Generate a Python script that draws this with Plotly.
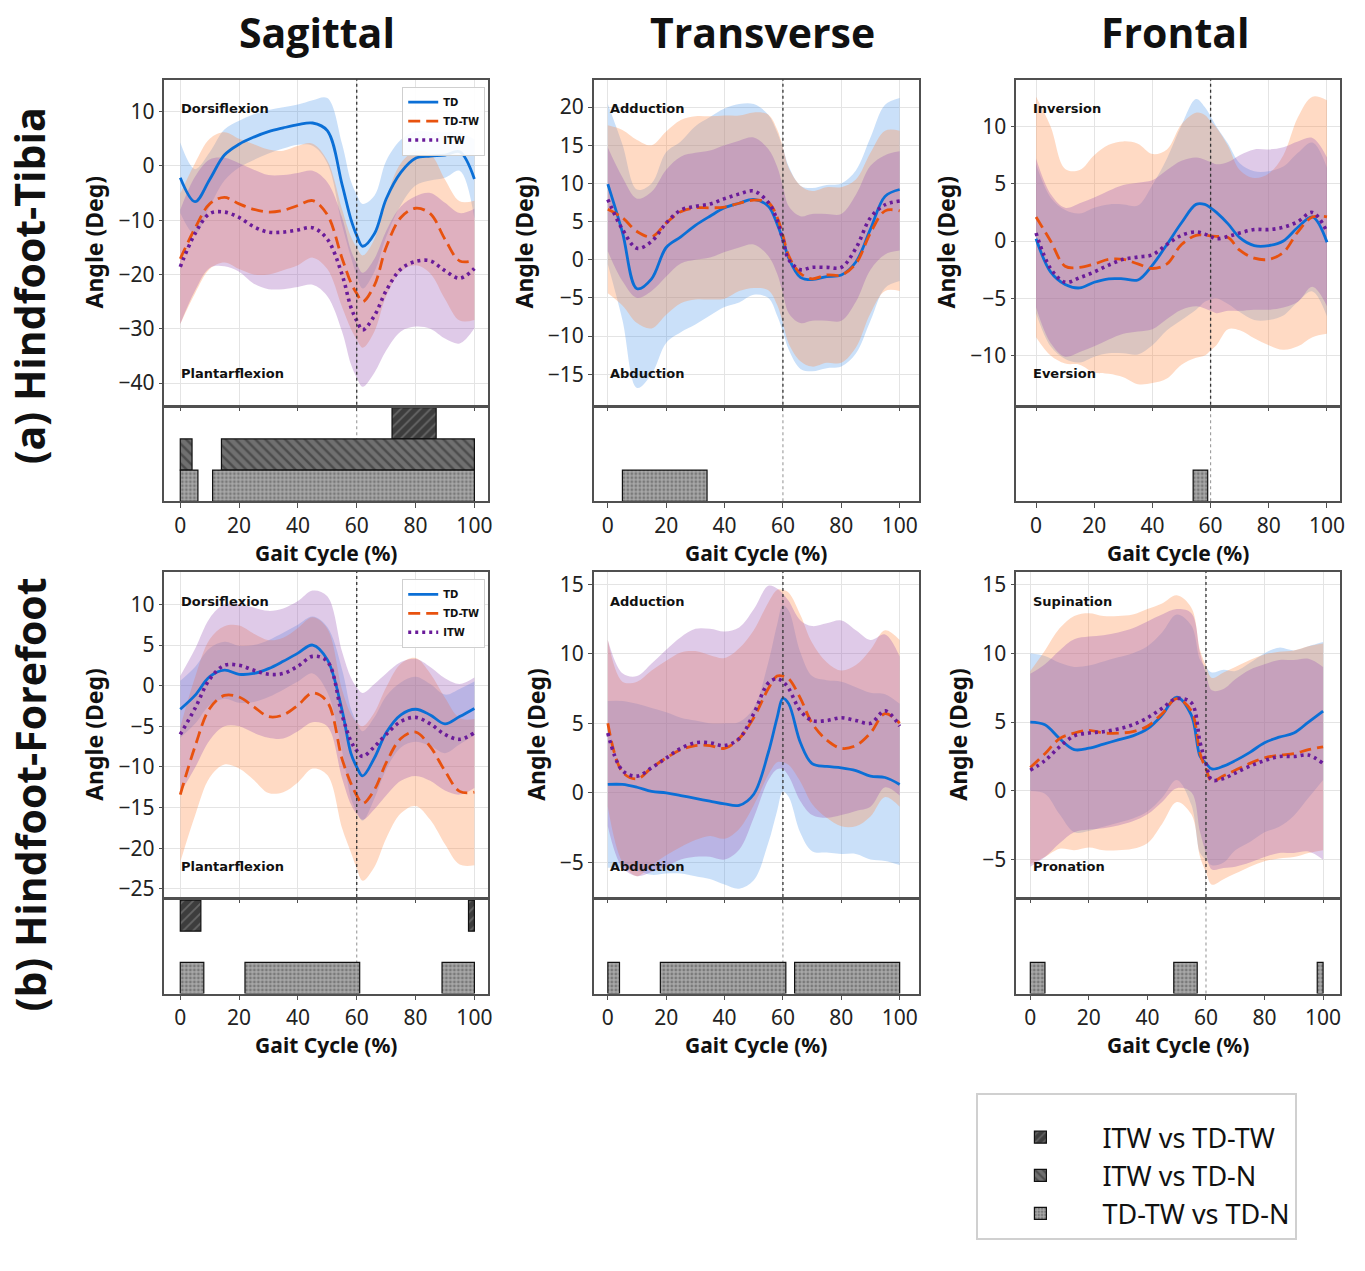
import plotly.graph_objects as go

W, H = 1365, 1271

# ---------------- data ----------------
X = [0, 5, 10, 15, 20, 25, 30, 35, 40, 45, 50, 55, 58, 60, 62, 66, 70, 75, 80, 85, 90, 95, 100]

# Row 1 (Hindfoot-Tibia) - Sagittal
R1C1_TD = [-2.2, -6.6, -2.5, 2.0, 4.0, 5.3, 6.3, 7.0, 7.6, 7.9, 6.5, -3.4, -9.8, -12.8, -14.8, -12.5, -6.1, -1.2, 1.4, 1.8, 2.0, 2.6, -2.4]
R1C1_TD_SD = [6.5, 6, 5, 4.7, 4.3, 4.2, 4, 3.8, 3.7, 4.2, 6, 7.5, 7, 7.5, 7.8, 7, 7, 6, 5, 4.5, 4.2, 3.5, 7.3]
R1C1_TDTW = [-17.1, -11.5, -7.0, -5.8, -7.0, -8.0, -8.5, -8.2, -7.3, -6.4, -9.0, -17.0, -21.5, -23.5, -25.0, -22.0, -15.0, -9.5, -7.8, -8.8, -13.5, -17.5, -17.4]
R1C1_TDTW_SD = [12, 12, 12, 12, 12, 12, 11.5, 11, 11, 10.5, 10, 9, 8.5, 8.5, 8.5, 8.5, 9, 10, 10.5, 11, 11, 11, 11]
R1C1_ITW = [-18.6, -12.5, -8.8, -8.5, -9.5, -11.2, -12.2, -12.2, -11.8, -11.4, -13.5, -20.0, -26.0, -28.5, -30.2, -27.6, -23.0, -19.0, -17.6, -17.5, -19.3, -20.7, -18.9]
R1C1_ITW_SD = [10.5, 10.5, 10, 10, 10, 10.5, 10.5, 10.5, 10.5, 10.5, 10.5, 10.5, 10.5, 10.5, 10.5, 10.5, 11, 11.5, 12, 12.5, 12.5, 12, 11]

# Row 1 - Transverse
R1C2_TD = [9.9, 3.6, -3.8, -2.5, 1.6, 3.0, 4.5, 5.7, 6.8, 7.4, 7.9, 7.0, 4.7, 2.6, 0.2, -2.3, -2.6, -2.2, -2.0, -0.3, 4.0, 8.3, 9.2]
R1C2_TD_SD = [10.5, 11.5, 13, 12.5, 12.5, 12.5, 13, 13, 13, 13, 12.5, 12, 12, 12, 12, 12, 12, 12, 12, 12, 12, 12, 12]
R1C2_TDTW = [6.6, 5.5, 3.7, 3.0, 4.8, 6.3, 6.8, 6.8, 6.9, 7.4, 7.8, 7.5, 5.6, 3.2, 0.5, -1.8, -2.5, -2.0, -2.0, -0.5, 3.5, 6.4, 6.4]
R1C2_TDTW_SD = [11, 11.5, 12, 12, 12, 12, 12, 12, 12, 11.5, 11.5, 11.5, 11.5, 11.5, 11.5, 11.5, 11.5, 11.5, 11.5, 11, 10.5, 10.5, 10.5]
R1C2_ITW = [7.9, 4.0, 1.5, 2.4, 4.8, 6.5, 7.0, 7.3, 8.0, 8.6, 9.0, 7.5, 5.2, 2.6, 0.0, -1.3, -1.0, -1.0, -1.0, 1.5, 5.5, 7.2, 7.7]
R1C2_ITW_SD = [6.8, 6.8, 6.5, 6.5, 7, 7, 7, 7, 7, 7, 7, 7, 7, 7, 7, 7, 7, 7, 7, 7, 6.8, 6.5, 6.5]

# Row 1 - Frontal
R1C3_TD = [0.2, -2.7, -3.8, -4.1, -3.6, -3.3, -3.3, -3.4, -2.1, -0.3, 1.6, 3.2, 3.2, 2.9, 2.5, 1.5, 0.3, -0.4, -0.4, 0.0, 1.2, 2.1, -0.1]
R1C3_TD_SD = [6.5, 6.5, 6.5, 6.5, 6.5, 6.5, 6.5, 6.5, 7, 7.5, 8.5, 9.2, 8.5, 8, 7.5, 7, 6.5, 6.5, 6.5, 6.5, 6.5, 6.5, 6.5]
R1C3_TDTW = [2.1, 0.0, -2.2, -2.3, -2.0, -1.6, -1.6, -2.0, -2.4, -2.0, -0.3, 0.5, 0.5, 0.45, 0.4, 0.3, -0.8, -1.5, -1.6, -1.0, 0.8, 2.1, 2.1]
R1C3_TDTW_SD = [10.5, 10, 8.5, 8.5, 9.5, 10, 10.3, 10.5, 10, 10, 10.5, 10.7, 10.5, 10, 9.5, 8, 7, 7, 7.5, 8.5, 10, 10.5, 10.2]
R1C3_ITW = [0.7, -2.4, -3.6, -3.2, -2.7, -2.1, -1.6, -1.4, -1.2, -0.3, 0.5, 0.8, 0.6, 0.4, 0.2, 0.4, 0.7, 1.0, 1.0, 1.2, 1.7, 2.5, 0.8]
R1C3_ITW_SD = [6.5, 6.5, 6.5, 6.5, 6.5, 6.5, 6.5, 6.5, 6.5, 6.5, 6.5, 6.5, 6.5, 6.5, 6.5, 6.5, 6.8, 7, 7, 7, 7, 6.5, 6.5]

# Row 2 (Hindfoot-Forefoot) - Sagittal
R2C1_TD = [-2.9, -1.2, 1.1, 1.9, 1.4, 1.5, 2.1, 3.0, 4.0, 5.0, 3.2, -3.0, -8.3, -10.0, -11.1, -8.9, -5.8, -3.6, -2.9, -3.6, -4.7, -3.8, -2.8]
R2C1_TD_SD = [3.5, 3.5, 3.5, 3.5, 3.5, 3.5, 3.5, 3.5, 3.5, 3.5, 4, 5, 5.5, 5.5, 5.5, 5, 4.5, 4, 4, 3.8, 3.6, 3.4, 3.3]
R2C1_TDTW = [-13.4, -7.5, -2.8, -1.2, -1.4, -2.6, -3.8, -3.6, -2.4, -0.9, -2.0, -9.0, -12.0, -13.5, -14.5, -12.8, -9.5, -6.5, -5.7, -7.5, -10.5, -13.0, -13.1]
R2C1_TDTW_SD = [8.3, 8.5, 8.5, 8.5, 8.8, 9, 9.4, 9.5, 9.5, 9.3, 9, 8.5, 8.5, 9, 9.5, 9.5, 9.3, 9.2, 9.1, 9, 9, 9, 9]
R2C1_ITW = [-6.0, -2.8, 0.8, 2.5, 2.5, 1.9, 1.4, 1.5, 2.4, 3.6, 3.0, -3.6, -6.8, -8.0, -8.7, -7.5, -6.0, -4.4, -3.9, -4.7, -6.0, -6.6, -5.8]
R2C1_ITW_SD = [7.2, 7.3, 7.5, 7.5, 7.5, 7.7, 7.8, 8, 8, 8.1, 8, 7.8, 7.8, 7.8, 7.8, 7.7, 7.5, 7.3, 7.2, 7, 6.9, 6.8, 6.8]

# Row 2 - Transverse
R2C2_TD = [0.6, 0.6, 0.4, 0.1, 0.0, -0.2, -0.4, -0.6, -0.8, -0.9, -0.1, 2.9, 5.4, 6.8, 6.4, 3.6, 2.1, 1.9, 1.8, 1.6, 1.2, 1.1, 0.6]
R2C2_TD_SD = [6, 6, 6, 6, 5.8, 5.6, 5.6, 5.6, 5.8, 6, 6.2, 6.5, 6.7, 6.7, 6.7, 6.5, 6.3, 6.2, 6.2, 6, 6, 6, 5.8]
R2C2_TDTW = [5.0, 1.5, 1.0, 1.8, 2.5, 3.1, 3.4, 3.4, 3.2, 3.9, 5.4, 7.5, 8.4, 8.4, 8.2, 6.8, 5.0, 3.8, 3.2, 3.4, 4.3, 5.7, 5.0]
R2C2_TDTW_SD = [6, 6.5, 7, 7, 7, 7, 6.8, 6.5, 6.5, 6.5, 6.3, 6.2, 6.2, 6.2, 6.2, 6, 5.8, 5.6, 5.6, 5.8, 6, 6, 6]
R2C2_ITW = [4.3, 1.6, 1.2, 1.8, 2.5, 3.2, 3.6, 3.6, 3.4, 3.9, 5.7, 7.9, 8.2, 8.0, 7.5, 5.9, 5.2, 5.2, 5.4, 5.2, 5.0, 5.9, 4.8]
R2C2_ITW_SD = [6.7, 7, 7.2, 7.5, 7.8, 8, 8.2, 8.2, 8.2, 8, 7.5, 7, 6.5, 6.3, 6.3, 6.5, 6.8, 7, 7, 6.5, 6, 5.5, 5]

# Row 2 - Frontal
R2C3_TD = [5.0, 4.8, 3.8, 3.0, 3.1, 3.4, 3.7, 4.0, 4.5, 5.5, 6.8, 5.5, 2.5, 2.0, 1.6, 1.8, 2.2, 2.8, 3.5, 3.9, 4.2, 5.0, 5.8]
R2C3_TD_SD = [5, 5, 5.5, 6, 6, 6, 6, 6, 6, 6, 6, 6.5, 7, 7, 7, 7, 6.5, 6.5, 6.5, 6.5, 6, 5.5, 5]
R2C3_TDTW = [1.7, 2.7, 3.8, 4.2, 4.4, 4.2, 4.2, 4.3, 4.7, 5.6, 6.7, 5.8, 2.7, 1.6, 0.7, 1.1, 1.5, 2.0, 2.4, 2.6, 2.7, 3.0, 3.2]
R2C3_TDTW_SD = [7, 7.5, 8, 8.5, 8.5, 8.5, 8.5, 8.5, 8.5, 8, 7.5, 7.5, 7.5, 7.5, 7.5, 7.5, 7.5, 7.5, 7.5, 7.5, 7.5, 7.5, 7.5]
R2C3_ITW = [1.5, 2.2, 3.2, 4.0, 4.2, 4.3, 4.5, 4.8, 5.3, 6.0, 6.7, 6.4, 3.5, 2.0, 0.8, 0.9, 1.3, 1.8, 2.2, 2.5, 2.5, 2.6, 2.0]
R2C3_ITW_SD = [7, 7, 7, 7, 7, 7, 7, 7, 7, 6.8, 6.5, 6.5, 6.5, 6.5, 6.5, 6.5, 6.8, 7, 7, 7, 7, 7, 7]

# significant intervals (start %, end %) per comparison
COMPARISONS = ["ITW vs TD-TW", "ITW vs TD-N", "TD-TW vs TD-N"]
R1C1_SIG = {"ITW vs TD-TW": [(72, 87)], "ITW vs TD-N": [(0, 4), (14, 100)], "TD-TW vs TD-N": [(0, 6), (11, 100)]}
R1C2_SIG = {"TD-TW vs TD-N": [(5, 34)]}
R1C3_SIG = {"TD-TW vs TD-N": [(54, 59)]}
R2C1_SIG = {"ITW vs TD-TW": [(0, 7), (98, 100)], "TD-TW vs TD-N": [(0, 8), (22, 61), (89, 100)]}
R2C2_SIG = {"TD-TW vs TD-N": [(0, 4), (18, 61), (64, 100)]}
R2C3_SIG = {"TD-TW vs TD-N": [(0, 5), (49, 57), (98, 100)]}

TOE_OFF = 60
GROUPS = ["TD", "TD-TW", "ITW"]
COL_TITLES = ["Sagittal", "Transverse", "Frontal"]
ROW_TITLES = ["(a) Hindfoot-Tibia", "(b) Hindfoot-Forefoot"]
XTICKS = [0, 20, 40, 60, 80, 100]
YTICKS = [
    [10, 0, -10, -20, -30, -40],
    [20, 15, 10, 5, 0, -5, -10, -15],
    [10, 5, 0, -5, -10],
    [10, 5, 0, -5, -10, -15, -20, -25],
    [15, 10, 5, 0, -5],
    [15, 10, 5, 0, -5],
]
DIR_LABELS = [
    ("Dorsiflexion", "Plantarflexion"),
    ("Adduction", "Abduction"),
    ("Inversion", "Eversion"),
    ("Dorsiflexion", "Plantarflexion"),
    ("Adduction", "Abduction"),
    ("Supination", "Pronation"),
]

PANELS = [
    (R1C1_TD, R1C1_TD_SD, R1C1_TDTW, R1C1_TDTW_SD, R1C1_ITW, R1C1_ITW_SD, R1C1_SIG),
    (R1C2_TD, R1C2_TD_SD, R1C2_TDTW, R1C2_TDTW_SD, R1C2_ITW, R1C2_ITW_SD, R1C2_SIG),
    (R1C3_TD, R1C3_TD_SD, R1C3_TDTW, R1C3_TDTW_SD, R1C3_ITW, R1C3_ITW_SD, R1C3_SIG),
    (R2C1_TD, R2C1_TD_SD, R2C1_TDTW, R2C1_TDTW_SD, R2C1_ITW, R2C1_ITW_SD, R2C1_SIG),
    (R2C2_TD, R2C2_TD_SD, R2C2_TDTW, R2C2_TDTW_SD, R2C2_ITW, R2C2_ITW_SD, R2C2_SIG),
    (R2C3_TD, R2C3_TD_SD, R2C3_TDTW, R2C3_TDTW_SD, R2C3_ITW, R2C3_ITW_SD, R2C3_SIG),
]

# ---------------- styling / geometry ----------------
LINE_COLORS = ["#0b6fd6", "#e8520f", "#6a1b9a"]
FILL_COLORS = ["rgba(65,145,235,0.28)", "rgba(255,140,70,0.32)", "rgba(150,80,180,0.30)"]
LINE_DASH = ["solid", "12px,6px", "3px,4px"]
LINE_WIDTH = [2.8, 2.8, 3.6]

COMP_LEVEL = {"ITW vs TD-TW": 2.5, "ITW vs TD-N": 1.5, "TD-TW vs TD-N": 0.5}
COMP_STYLE = {
    "ITW vs TD-TW": dict(bg="#3d3d3d", fg="#909090", shape="/", size=7, solidity=0.25),
    "ITW vs TD-N": dict(bg="#707070", fg="#262626", shape="\\", size=7, solidity=0.35),
    "TD-TW vs TD-N": dict(bg="#a8a8a8", fg="#4a4a4a", shape=".", size=4, solidity=0.4),
}

COL_PX = [(165, 490), (596, 922), (1020, 1345)]
ROW_MAIN_PX = [(78, 405), (573, 900)]
ROW_SUB_PX = [(408, 502), (903, 997)]
XRANGES = [[-5.4, 104.7], [-4.8, 106.5], [-6.8, 104.5], [-5.4, 104.7], [-4.8, 106.5], [-4.8, 105.8]]
YRANGES = [[-44, 15.9], [-19, 23.6], [-14.3, 14.1], [-26, 14], [-7.5, 15.9], [-7.7, 15.9]]

TICKFONT = dict(family="Noto Sans", size=21, color="#222222")
YTITLEFONT = dict(family="Noto Sans", size=23, color="#111111")
XTITLEFONT = dict(family="Noto Sans", size=21, color="#111111")
FRAME = "#505050"


def ydom(py0, py1):
    return [1 - py1 / H, 1 - py0 / H]


fig = go.Figure()
layout = {}
shapes = []
annotations = []
legend_done = set()

for p, (td, tdsd, tt, ttsd, itw, itwsd, sig) in enumerate(PANELS):
    r, c = divmod(p, 3)
    mi, si = 2 * p + 1, 2 * p + 2
    xm = "x" if mi == 1 else f"x{mi}"
    ym = "y" if mi == 1 else f"y{mi}"
    xs, ys = f"x{si}", f"y{si}"
    xdom = [COL_PX[c][0] / W, COL_PX[c][1] / W]

    # main axes
    layout["xaxis" if mi == 1 else f"xaxis{mi}"] = dict(
        domain=xdom, anchor=ym, range=XRANGES[p], tickvals=XTICKS, showticklabels=False,
        ticks="outside", ticklen=4, tickcolor=FRAME, showgrid=True, gridcolor="#e4e4e4",
        showline=True, mirror=True, linecolor=FRAME, linewidth=1.5, zeroline=False)
    layout["yaxis" if mi == 1 else f"yaxis{mi}"] = dict(
        domain=ydom(*ROW_MAIN_PX[r]), anchor=xm, range=YRANGES[p], tickvals=YTICKS[p],
        ticks="outside", ticklen=4, tickcolor=FRAME, tickfont=TICKFONT,
        showgrid=True, gridcolor="#e4e4e4", showline=True, mirror=True,
        linecolor=FRAME, linewidth=1.5, zeroline=False,
        title=dict(text="<b>Angle (Deg)</b>", font=YTITLEFONT, standoff=8))
    # significance axes
    layout[f"xaxis{si}"] = dict(
        domain=xdom, anchor=ys, range=XRANGES[p], tickvals=XTICKS, tickfont=TICKFONT,
        ticks="outside", ticklen=5, tickcolor=FRAME, showgrid=False,
        showline=True, mirror=True, linecolor=FRAME, linewidth=1.5, zeroline=False,
        title=dict(text="<b>Gait Cycle (%)</b>", font=XTITLEFONT, standoff=4))
    layout[f"yaxis{si}"] = dict(
        domain=ydom(*ROW_SUB_PX[r]), anchor=xs, range=[0, 3], showticklabels=False,
        ticks="", showgrid=False, showline=True, mirror=True, linecolor=FRAME,
        linewidth=1.5, zeroline=False, fixedrange=True)

    means = [td, tt, itw]
    sds = [tdsd, ttsd, itwsd]
    # bands
    for g in range(3):
        up = [m + s for m, s in zip(means[g], sds[g])]
        lo = [m - s for m, s in zip(means[g], sds[g])]
        fig.add_trace(go.Scatter(x=X, y=up, mode="lines", line=dict(width=0, shape="spline"),
                                 hoverinfo="skip", showlegend=False, xaxis=xm, yaxis=ym))
        fig.add_trace(go.Scatter(x=X, y=lo, mode="lines", line=dict(width=0, shape="spline"),
                                 fill="tonexty", fillcolor=FILL_COLORS[g], hoverinfo="skip",
                                 showlegend=False, xaxis=xm, yaxis=ym))
    # mean lines
    for g in range(3):
        show = c == 0
        fig.add_trace(go.Scatter(
            x=X, y=means[g], mode="lines", name=f"<b>{GROUPS[g]}</b>",
            line=dict(color=LINE_COLORS[g], width=LINE_WIDTH[g], dash=LINE_DASH[g], shape="spline"),
            showlegend=show, legend="legend" if r == 0 else "legend2",
            xaxis=xm, yaxis=ym))

    # significance bars
    for comp in COMPARISONS:
        iv = sig.get(comp, [])
        if not iv:
            continue
        st = COMP_STYLE[comp]
        first = comp not in legend_done
        legend_done.add(comp)
        fig.add_trace(go.Bar(
            x=[e - s for s, e in iv], base=[s for s, e in iv], y=[COMP_LEVEL[comp]] * len(iv),
            orientation="h", width=1.0, name=comp, legendgroup=comp,
            marker=dict(color=st["bg"], line=dict(color="#111111", width=1.2),
                        pattern=dict(shape=st["shape"], bgcolor=st["bg"], fgcolor=st["fg"],
                                     size=st["size"], solidity=st["solidity"])),
            showlegend=first, legend="legend3", xaxis=xs, yaxis=ys))

    # toe-off lines
    shapes.append(dict(type="line", xref=xm, yref=f"{ym} domain", x0=TOE_OFF, x1=TOE_OFF,
                       y0=0, y1=1, line=dict(color="#333333", width=1.3, dash="dot")))
    shapes.append(dict(type="line", xref=xs, yref=f"{ys} domain", x0=TOE_OFF, x1=TOE_OFF,
                       y0=0, y1=1, line=dict(color="#9a9a9a", width=1.1, dash="dot"), layer="below"))

    # direction labels
    top, bot = DIR_LABELS[p]
    for txt, yy in ((top, 0.91), (bot, 0.095)):
        annotations.append(dict(text=f"<b>{txt}</b>", xref=f"{xm} domain", yref=f"{ym} domain",
                                x=0.045, y=yy, xanchor="left", yanchor="middle", showarrow=False,
                                font=dict(family="DejaVu Sans", size=13, color="#111111")))

# column titles
TITLE_X = [318, 765, 1180]
for c, t in enumerate(COL_TITLES):
    annotations.append(dict(text=f"<b>{t}</b>", xref="paper", yref="paper", x=TITLE_X[c] / W,
                            y=1 - 30 / H, xanchor="center", yanchor="middle", showarrow=False,
                            font=dict(family="Open Sans", size=41, color="#111111")))
# row titles
for r, t in enumerate(ROW_TITLES):
    cy = 285 if r == 0 else 797
    annotations.append(dict(text=f"<b>{t}</b>", xref="paper", yref="paper", x=30 / W, y=1 - cy / H,
                            xanchor="center", yanchor="middle", textangle=-90, showarrow=False,
                            font=dict(family="Open Sans", size=41, color="#111111")))

leg_small = dict(xanchor="right", yanchor="top", bgcolor="rgba(255,255,255,0.9)",
                 bordercolor="#cfcfcf", borderwidth=1, font=dict(family="DejaVu Sans", size=10, color="#111"),
                 tracegroupgap=0, itemwidth=30, traceorder="normal")

fig.update_layout(
    width=W, height=H, margin=dict(l=0, r=0, t=0, b=0),
    paper_bgcolor="white", plot_bgcolor="white", barmode="overlay",
    showlegend=True,
    legend=dict(x=487 / W, y=1 - 85 / H, **leg_small),
    legend2=dict(x=487 / W, y=1 - 580 / H, **leg_small),
    legend3=dict(x=980 / W, y=1 - 1097 / H, xanchor="left", yanchor="top", bgcolor="white",
                 bordercolor="#d0d0d0", borderwidth=2, itemwidth=114,
                 title=dict(text=" ", font=dict(size=14)),
                 font=dict(family="Noto Sans", size=27, color="#111"), tracegroupgap=18,
                 traceorder="normal"),
    shapes=shapes, annotations=annotations,
    **layout,
)

fig.write_html("out.html", config={"displayModeBar": False},
               post_script="document.body.style.margin='0px';")
